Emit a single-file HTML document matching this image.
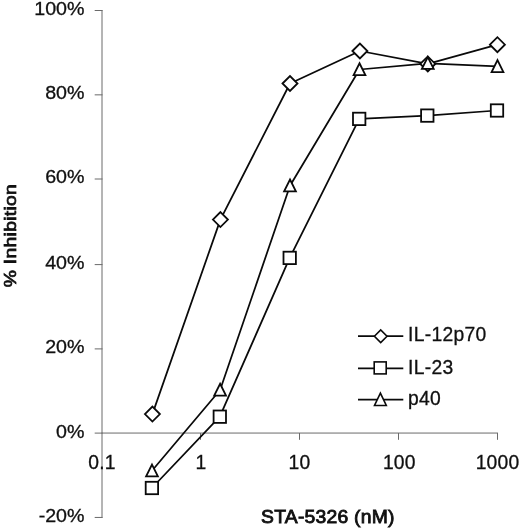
<!DOCTYPE html>
<html><head><meta charset="utf-8"><title>chart</title>
<style>html,body{margin:0;padding:0;background:#fff}svg{display:block}</style>
</head><body>
<svg width="520" height="528" viewBox="0 0 520 528">
<rect width="520" height="528" fill="#fff"/>
<g stroke="#6a6a6a" stroke-width="1" fill="none">
<line x1="102" y1="10" x2="102" y2="518"/>
<line x1="101.5" y1="433.05" x2="498" y2="433.05"/>
<line x1="94.7" y1="10.50" x2="102.5" y2="10.50"/>
<line x1="94.7" y1="94.85" x2="102.5" y2="94.85"/>
<line x1="94.7" y1="179.00" x2="102.5" y2="179.00"/>
<line x1="94.7" y1="264.60" x2="102.5" y2="264.60"/>
<line x1="94.7" y1="348.90" x2="102.5" y2="348.90"/>
<line x1="94.7" y1="433.10" x2="102.5" y2="433.10"/>
<line x1="94.7" y1="517.45" x2="102.5" y2="517.45"/>
<line x1="200.5" y1="433" x2="200.5" y2="439.8"/>
<line x1="299.5" y1="433" x2="299.5" y2="439.8"/>
<line x1="398.5" y1="433" x2="398.5" y2="439.8"/>
<line x1="497.5" y1="433" x2="497.5" y2="439.8"/>
</g>
<g stroke="#0a0a0a" stroke-width="1.75" stroke-linecap="butt" fill="none" stroke-linejoin="round">
<polyline points="152.4,414.1 220.4,219.6 290,83.5 359.9,51 427.8,63.9 497.4,44.7"/>
<polyline points="151.9,488 219.8,416.7 289.7,257.9 359.2,118.9 427.3,115.6 497,110.5"/>
<polyline points="152,470.8 220.1,390 290,185.75 359.5,69.5 427.8,63.3 497.5,66.4"/>
<line x1="358" y1="336.2" x2="403.3" y2="336.2"/>
<line x1="358" y1="368.4" x2="403.3" y2="368.4"/>
<line x1="358" y1="399.5" x2="403.3" y2="399.5"/>
</g>
<g stroke="#0a0a0a" stroke-width="1.8" fill="#fff" stroke-linejoin="miter">
<path d="M144.9,414.1L152.4,406.6L159.9,414.1L152.4,421.6Z"/>
<path d="M212.9,219.6L220.4,212.1L227.9,219.6L220.4,227.1Z"/>
<path d="M282.5,83.5L290,76L297.5,83.5L290,91Z"/>
<path d="M352.4,51L359.9,43.5L367.4,51L359.9,58.5Z"/>
<path d="M420.3,63.9L427.8,56.4L435.3,63.9L427.8,71.4Z"/>
<path d="M489.9,44.7L497.4,37.2L504.9,44.7L497.4,52.2Z"/>
<rect x="145.7" y="481.8" width="12.4" height="12.4"/>
<rect x="213.6" y="410.5" width="12.4" height="12.4"/>
<rect x="283.5" y="251.7" width="12.4" height="12.4"/>
<rect x="353" y="112.7" width="12.4" height="12.4"/>
<rect x="421.1" y="109.4" width="12.4" height="12.4"/>
<rect x="490.8" y="104.3" width="12.4" height="12.4"/>
<path d="M152,464.55L157.9,476.45L146.1,476.45Z"/>
<path d="M220.1,383.75L226,395.65L214.2,395.65Z"/>
<path d="M290,179.5L295.9,191.4L284.1,191.4Z"/>
<path d="M359.5,63.25L365.4,75.15L353.6,75.15Z"/>
<path d="M427.8,57.05L433.7,68.95L421.9,68.95Z"/>
<path d="M497.5,60.15L503.4,72.05L491.6,72.05Z"/>
</g>
<g stroke="#0a0a0a" stroke-width="1.6" fill="#fff" stroke-linejoin="miter">
<path d="M374.4,336.2L380.7,329.9L387,336.2L380.7,342.5Z"/>
<rect x="374.2" y="361.9" width="12" height="12"/>
<path d="M380.4,393.1L386.3,405.5L374.5,405.5Z"/>
</g>
<g font-family="'Liberation Sans', Arial, sans-serif" font-size="19.3px" fill="#101010" stroke="#101010" stroke-width="0.3">
<text transform="translate(84.5,15.1) scale(1.04,1)" font-size="18.9px" text-anchor="end">100%</text>
<text transform="translate(84.5,99.0) scale(1.04,1)" font-size="18.9px" text-anchor="end">80%</text>
<text transform="translate(84.5,183.1) scale(1.04,1)" font-size="18.9px" text-anchor="end">60%</text>
<text transform="translate(84.5,269.2) scale(1.04,1)" font-size="18.9px" text-anchor="end">40%</text>
<text transform="translate(84.5,353.1) scale(1.04,1)" font-size="18.9px" text-anchor="end">20%</text>
<text transform="translate(84.5,438.2) scale(1.04,1)" font-size="18.9px" text-anchor="end">0%</text>
<text transform="translate(84.5,521.8) scale(1.04,1)" font-size="18.9px" text-anchor="end">-20%</text>
<text x="102.0" y="468.8" text-anchor="middle" letter-spacing="0.2">0.1</text>
<text x="201.0" y="468.8" text-anchor="middle" letter-spacing="0.2">1</text>
<text x="299.5" y="468.8" text-anchor="middle" letter-spacing="0.2">10</text>
<text x="399.3" y="468.8" text-anchor="middle" letter-spacing="0.2">100</text>
<text x="497.5" y="468.8" text-anchor="middle" letter-spacing="0.2">1000</text>
<text x="408" y="341.1" letter-spacing="0.3">IL-12p70</text>
<text x="408" y="374.0" letter-spacing="0.3">IL-23</text>
<text x="408" y="405.2" letter-spacing="0.3">p40</text>
<text transform="translate(327.9,522.6) scale(1.04,1)" font-size="18.6px" text-anchor="middle" stroke-width="0.85" letter-spacing="0.22">STA-5326 (nM)</text>
<text transform="translate(16.1,235.6) rotate(-90) scale(1.115,1)" font-size="17.3px" text-anchor="middle" stroke-width="0.75" letter-spacing="0.27">% Inhibition</text>
</g>
</svg>
</body></html>
